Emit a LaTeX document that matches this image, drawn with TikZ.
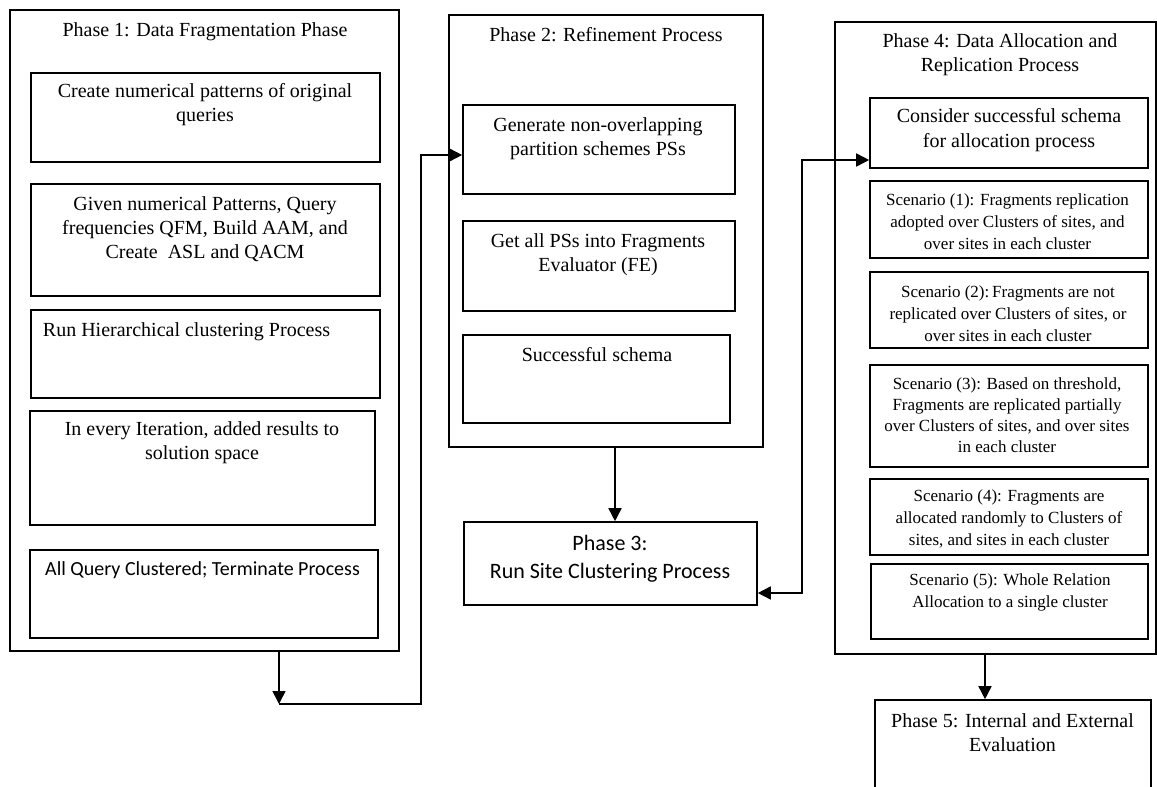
\documentclass[tikz,border=0pt]{standalone}
\usepackage{fontspec}
\setmainfont{Liberation Serif}
\newfontfamily\carlito{Carlito}
\usetikzlibrary{arrows.meta}
\tikzset{
  box/.style={draw, line width=1.6pt, inner sep=0pt, rectangle},
  txt/.style={align=center, inner sep=0pt, font=\fontsize{20}{24}\selectfont},
  stxt/.style={align=center, inner sep=0pt, font=\fontsize{17}{22}\selectfont},
  sanstxt/.style={align=center, inner sep=0pt, font=\carlito\fontsize{20}{24}\selectfont},
  bigsans/.style={align=center, inner sep=0pt, font=\carlito\fontsize{22}{28}\selectfont},
  arr/.style={line width=1.6pt, -{Triangle[length=13pt,width=13pt]}},
  darr/.style={line width=1.6pt, {Triangle[length=13pt,width=13pt]}-{Triangle[length=13pt,width=13pt]}},
  plain/.style={line width=1.6pt}
}
\begin{document}
\begin{tikzpicture}[x=1pt,y=-1pt]
\useasboundingbox (0,0) rectangle (1157,787);
\clip (0,0) rectangle (1157,787);
\fill[white] (0,0) rectangle (1157,787);

% Phase 1
\node[box, minimum width=389pt, minimum height=641pt] (phase1) at (204.5,330.5) {};
\node[txt] (t1) at (205,32) {Phase 1: Data Fragmentation Phase};
\node[box, minimum width=349pt, minimum height=89pt] (p1a) at (205.5,117.5) {};
\node[txt] (t1a) at (205,105) {Create numerical patterns of original\\queries};
\node[box, minimum width=349pt, minimum height=112pt] (p1b) at (205.5,240) {};
\node[txt] (t1b) at (205,229) {Given numerical Patterns, Query\\frequencies QFM, Build AAM, and\\Create\ \ ASL and QACM};
\node[box, minimum width=349pt, minimum height=88pt] (p1c) at (205.5,354) {};
\node[txt] (t1c) at (186.5,332) {Run Hierarchical clustering Process};
\node[box, minimum width=345pt, minimum height=114pt] (p1d) at (202.5,468) {};
\node[txt] (t1d) at (202,442.5) {In every Iteration, added results to\\solution space};
\node[box, minimum width=348pt, minimum height=88pt] (p1e) at (204,594) {};
\node[sanstxt] (t1e) at (202.5,570) {All Query Clustered; Terminate Process};

% Phase 2
\node[box, minimum width=314pt, minimum height=432pt] (phase2) at (606,231) {};
\node[txt] (t2) at (606,35) {Phase 2: Refinement Process};
\node[box, minimum width=272pt, minimum height=89pt] (gen) at (599,149.5) {};
\node[txt] (tgen) at (598,138.5) {Generate non-overlapping\\partition schemes PSs};
\node[box, minimum width=272pt, minimum height=90pt] (get) at (599,266) {};
\node[txt] (tget) at (598,254.5) {Get all PSs into Fragments\\Evaluator (FE)};
\node[box, minimum width=267pt, minimum height=88pt] (succ) at (596.5,379) {};
\node[txt] (tsucc) at (597,355) {Successful schema};

% Phase 3
\node[box, minimum width=293pt, minimum height=83pt] (phase3) at (610.5,563.5) {};
\node[bigsans] (t3) at (610,559) {Phase 3:\\Run Site Clustering Process};

% Phase 4
\node[box, minimum width=321pt, minimum height=632pt] (phase4) at (995.5,338) {};
\node[txt] (t4) at (1000,55) {Phase 4: Data Allocation and\\Replication Process};
\node[box, minimum width=278pt, minimum height=70pt] (consider) at (1009,133) {};
\node[txt, font=\fontsize{20}{25}\selectfont] (tcons) at (1009,130.5) {Consider successful schema\\for allocation process};
\node[box, minimum width=278pt, minimum height=77pt] (s1) at (1009,219.5) {};
\node[stxt] (ts1) at (1007.5,222) {Scenario (1): Fragments replication\\adopted over Clusters of sites, and\\over sites in each cluster};
\node[box, minimum width=278pt, minimum height=76pt] (s2) at (1009,310) {};
\node[stxt] (ts2) at (1008,314) {Scenario (2):\,Fragments are not\\replicated over Clusters of sites, or\\over sites in each cluster};
\node[box, minimum width=278pt, minimum height=102pt] (s3) at (1009,416) {};
\node[stxt, font=\fontsize{17}{21}\selectfont] (ts3) at (1007,415.5) {Scenario (3): Based on threshold,\\Fragments are replicated partially\\over Clusters of sites, and over sites\\in each cluster};
\node[box, minimum width=278pt, minimum height=76pt] (s4) at (1009,517) {};
\node[stxt] (ts4) at (1009,518.5) {Scenario (4): Fragments are\\allocated randomly to Clusters of\\sites, and sites in each cluster};
\node[box, minimum width=277pt, minimum height=75pt] (s5) at (1009.5,601.5) {};
\node[stxt] (ts5) at (1010,592.5) {Scenario (5): Whole Relation\\Allocation to a single cluster};

% Phase 5
\node[box, minimum width=276pt, minimum height=110pt] (phase5) at (1013,755) {};
\node[txt] (t5) at (1012.5,733) {Phase 5: Internal and External\\Evaluation};

% Connectors
\coordinate (cA) at (279,704);
\coordinate (cB) at (421,704);
\coordinate (cC) at (421,155);
\draw[arr] (cA |- phase1.south) -- (cA);
\draw[arr] (cA) -- (cB) -- (cC) -- (cC -| gen.west);
\draw[arr] ([xshift=9pt]phase2.south) -- ([xshift=4.5pt]phase3.north);
\coordinate (cD) at (802,593);
\coordinate (cE) at (802,160);
\draw[darr] (cD -| phase3.east) -- (cD) -- (cE) -- (cE -| consider.west);
\draw[arr] ([xshift=-10.5pt]phase4.south) -- ([xshift=-10.5pt]phase4.south |- phase5.north);
\end{tikzpicture}
\end{document}
